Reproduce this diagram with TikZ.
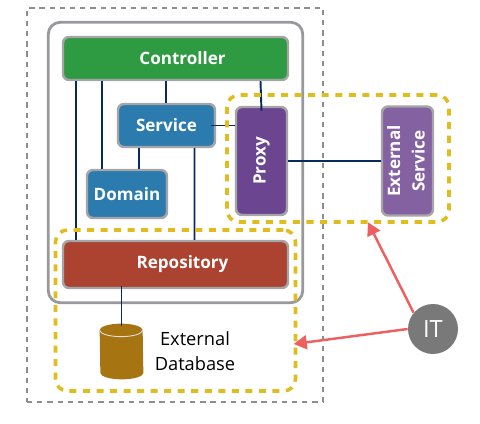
\documentclass[tikz,border=0pt]{standalone}
\usepackage{fontspec}
\setmainfont{Open Sans}
\usepackage{tikz}
\usetikzlibrary{calc, fit, arrows.meta}
\pgfdeclarelayer{background}
\pgfdeclarelayer{foreground}
\pgfsetlayers{background,main,foreground}
\definecolor{ctrlgreen}{HTML}{2E9A41}
\definecolor{svcblue}{HTML}{2B7BAF}
\definecolor{proxypurple}{HTML}{6B4590}
\definecolor{extpurple}{HTML}{8461A0}
\definecolor{repored}{HTML}{AC4230}
\definecolor{dbbrown}{HTML}{A67511}
\definecolor{zonegold}{HTML}{E0BC1F}
\definecolor{framegray}{HTML}{8E8E92}
\definecolor{linknavy}{HTML}{0B2A5C}
\definecolor{hitred}{HTML}{EE5F5F}
\tikzstyle{layerbox}  = [rectangle, rounded corners=.12cm, draw=framegray!80, line width=1.4pt, text=white, text centered, inner sep=0pt, font=\fontsize{9.7}{14}\selectfont\bfseries]
\tikzstyle{outerzone} = [rectangle, draw=framegray, line width=1.5pt, dash pattern=on 3pt off 2.8pt, minimum width=5.92cm, minimum height=7.88cm]
\tikzstyle{appzone}   = [rectangle, rounded corners=.24cm, draw=framegray!90, line width=1.6pt]
\tikzstyle{goldzone}  = [rectangle, rounded corners=.24cm, draw=zonegold, line width=2pt, dash pattern=on 4pt off 3.7pt]
\tikzstyle{link}      = [draw=linknavy, line width=1.1pt]
\tikzstyle{hit}       = [draw=hitred, line width=1.4pt, -{Triangle[length=.26cm, width=.28cm]}]

\begin{document}
\begin{tikzpicture}[node distance=1cm]
    \useasboundingbox (0,0) rectangle (9.6,-8.48);

    \node (Controller) [layerbox, fill=ctrlgreen, minimum width=4.5cm, minimum height=.86cm] at (3.51,-1.17) {\hspace*{.28cm}Controller};
    \node (Service)    [layerbox, fill=svcblue, minimum width=1.94cm, minimum height=.86cm, below of=Controller, xshift=-.18cm, yshift=-.34cm] {Service};
    \node (Domain)     [layerbox, fill=svcblue, minimum width=1.6cm, minimum height=.96cm, below of=Service, xshift=-.79cm, yshift=-.37cm] {Domain};
    \node (Proxy)      [layerbox, fill=proxypurple, minimum width=1.02cm, minimum height=2.16cm, right of=Service, xshift=.9cm, yshift=-.71cm] {\rotatebox{90}{Proxy}};
    \node (External)   [layerbox, fill=extpurple, minimum width=1.02cm, minimum height=2.18cm, right of=Proxy, xshift=1.92cm] {\rotatebox{90}{\begin{tabular}{@{}c@{}}External\\Service\end{tabular}}};
    \node (Repository) [layerbox, fill=repored, minimum width=4.5cm, minimum height=.94cm, below of=Controller, yshift=-3.12cm] {\hspace*{.28cm}Repository};
    \node (Database)   [minimum width=.86cm, minimum height=1.1cm, inner sep=0pt, below of=Repository, xshift=-1.08cm, yshift=-.74cm] {};
    \node (dbname)     [right of=Database, xshift=.47cm, align=center, font=\fontsize{10.4}{14.2}\selectfont] {External\\Database};
    \node (IT)         [circle, fill=gray!95!black, text=white, minimum size=1cm, inner sep=0pt, font=\fontsize{13.5}{14}\selectfont, right of=Repository, xshift=4.15cm, yshift=-1.29cm] {IT};

    \fill [dbbrown] ([yshift=-.13cm]Database.north west) arc[start angle=180, end angle=0, x radius=.43cm, y radius=.13cm]
      -- ([yshift=.13cm]Database.south east) arc[start angle=360, end angle=180, x radius=.43cm, y radius=.13cm] -- cycle;
    \draw [white!75!gray, line width=.5pt] ([yshift=-.13cm]Database.north west) arc[start angle=180, end angle=360, x radius=.43cm, y radius=.13cm];

    \begin{pgfonlayer}{background}
      \node (outer) [outerzone, below of=Controller, xshift=-.01cm, yshift=-1.93cm] {};
      \node (app)   [appzone, fit=(Controller)(Repository), inner sep=.27cm] {};
    \end{pgfonlayer}
    \begin{pgfonlayer}{foreground}
      \node (extzone) [goldzone, minimum width=4.44cm, minimum height=2.54cm, right of=Proxy, xshift=.53cm, yshift=.05cm] {};
      \node (dbzone)  [goldzone, minimum width=4.8cm, minimum height=3.22cm, below of=Repository, yshift=.08cm] {};
      \draw [hit] (IT.140) -- ([xshift=.6cm, yshift=.03cm]extzone.south);
      \draw [hit] (IT.west) -- ([xshift=-.07cm, yshift=-.67cm]dbzone.east);
    \end{pgfonlayer}

    \draw [link] ([xshift=-1.99cm]Controller.south) -- ([xshift=-1.99cm]Repository.north);
    \draw [link] ([xshift=-1.47cm]Controller.south) -- ([xshift=-.5cm]Domain.north);
    \draw [link] ([xshift=-.19cm]Controller.south) -- ([xshift=-.01cm]Service.north);
    \draw [link] ([xshift=1.7cm]Controller.south) -- ([yshift=-.1cm]Proxy.north);
    \draw [link] ([xshift=-.55cm]Service.south) -- ([xshift=.24cm]Domain.north);
    \draw [link] ([xshift=.56cm]Service.south) -- ([xshift=.38cm]Repository.north);
    \draw [link] ([xshift=-.1cm]Service.east) -- ([yshift=.71cm]Proxy.west);
    \draw [link] (Proxy.east) -- (External.west);
    \draw [link] ([xshift=-1.08cm, yshift=.06cm]Repository.south) -- ([yshift=-.04cm]Database.north);
  \end{tikzpicture}
\end{document}
